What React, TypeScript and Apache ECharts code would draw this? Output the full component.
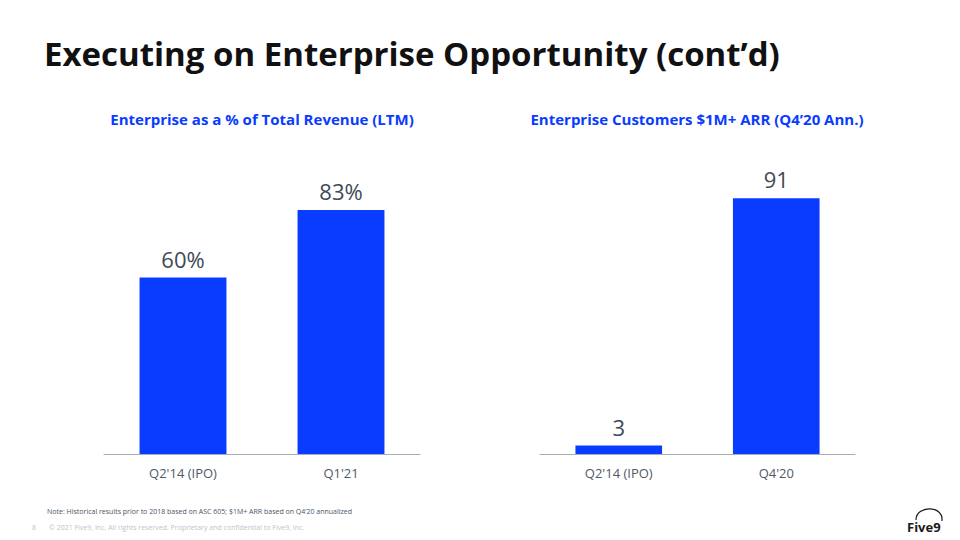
import React, { useEffect, useRef } from "react";
import * as echarts from "echarts";

const leftCategories = ["Q2'14 (IPO)", "Q1'21"];
const leftValues = [60, 83];
const rightCategories = ["Q2'14 (IPO)", "Q4'20"];
const rightValues = [3, 91];

const pageTitle = "Executing on Enterprise Opportunity (cont\u2019d)";
const leftTitle = "Enterprise as a % of Total Revenue (LTM)";
const rightTitle = "Enterprise Customers $1M+ ARR (Q4\u201920 Ann.)";
const noteText = "Note: Historical results prior to 2018 based on ASC 605; $1M+ ARR based on Q4\u201920 annualized";
const copyrightText = "\u00A9 2021 Five9, Inc. All rights reserved. Proprietary and confidential to Five9, Inc.";

const BLUE = "#0a3cff";
const FONT = "'Open Sans', 'Noto Sans', sans-serif";

export default function App() {
  const ref = useRef<HTMLDivElement>(null);
  useEffect(() => {
    if (!ref.current) return;
    const chart = echarts.init(ref.current, null, { renderer: "svg" });
    const axisCommon = {
      type: "category" as const,
      axisLine: { show: true, lineStyle: { color: "#a6adb5", width: 1 } },
      axisTick: { show: false },
      axisLabel: { color: "#4f5968", fontSize: 13, fontFamily: FONT, margin: 12 },
    };
    const yCommon = {
      type: "value" as const,
      min: 0,
      max: 100,
      show: false,
      splitLine: { show: false },
    };
    const labelCommon = {
      show: true,
      position: "top" as const,
      color: "#404a57",
      fontSize: 22,
      fontFamily: FONT,
      distance: 8,
    };
    chart.setOption({
      animation: false,
      backgroundColor: "#ffffff",
      grid: [
        { left: 104, width: 316, top: 160, height: 294 },
        { left: 540, width: 315, top: 173, height: 281 },
      ],
      xAxis: [
        { ...axisCommon, gridIndex: 0, data: leftCategories },
        { ...axisCommon, gridIndex: 1, data: rightCategories },
      ],
      yAxis: [
        { ...yCommon, gridIndex: 0 },
        { ...yCommon, gridIndex: 1 },
      ],
      series: [
        {
          type: "bar",
          xAxisIndex: 0,
          yAxisIndex: 0,
          data: leftValues,
          barWidth: "55%",
          itemStyle: { color: BLUE },
          label: { ...labelCommon, formatter: "{c}%" },
        },
        {
          type: "bar",
          xAxisIndex: 1,
          yAxisIndex: 1,
          data: rightValues,
          barWidth: "55%",
          itemStyle: { color: BLUE },
          label: { ...labelCommon, formatter: "{c}" },
        },
      ],
      graphic: [
        {
          type: "text",
          x: 44,
          y: 53,
          style: { text: pageTitle, fill: "#111111", font: `bold 33px ${FONT}`, verticalAlign: "middle" },
        },
        {
          type: "text",
          x: 262,
          y: 119,
          style: { text: leftTitle, fill: BLUE, font: `bold 15px ${FONT}`, align: "center", verticalAlign: "middle" },
        },
        {
          type: "text",
          x: 697,
          y: 119,
          style: { text: rightTitle, fill: BLUE, font: `bold 15px ${FONT}`, align: "center", verticalAlign: "middle" },
        },
        {
          type: "text",
          x: 47,
          y: 511,
          style: { text: noteText, fill: "#4a5568", font: `7px ${FONT}`, verticalAlign: "middle" },
        },
        {
          type: "text",
          x: 32,
          y: 527,
          style: { text: "8", fill: "#c0c4ca", font: `7px ${FONT}`, verticalAlign: "middle" },
        },
        {
          type: "text",
          x: 49,
          y: 527,
          style: { text: copyrightText, fill: "#c0c4ca", font: `7px ${FONT}`, verticalAlign: "middle" },
        },
        {
          type: "text",
          x: 907,
          y: 527,
          style: { text: "Five9", fill: "#1a1a1a", font: `bold 13px ${FONT}`, verticalAlign: "middle" },
        },
        {
          type: "bezierCurve",
          shape: { x1: 916, y1: 520, x2: 942, y2: 521, cpx1: 916, cpy1: 505, cpx2: 944, cpy2: 505 },
          style: { stroke: "#1a1a1a", lineWidth: 1.2, fill: null },
        },
      ],
    });
    return () => chart.dispose();
  }, []);
  return (
    <div
      ref={ref}
      style={{ position: "fixed", left: 0, top: 0, width: 960, height: 540, background: "#fff" }}
    />
  );
}
